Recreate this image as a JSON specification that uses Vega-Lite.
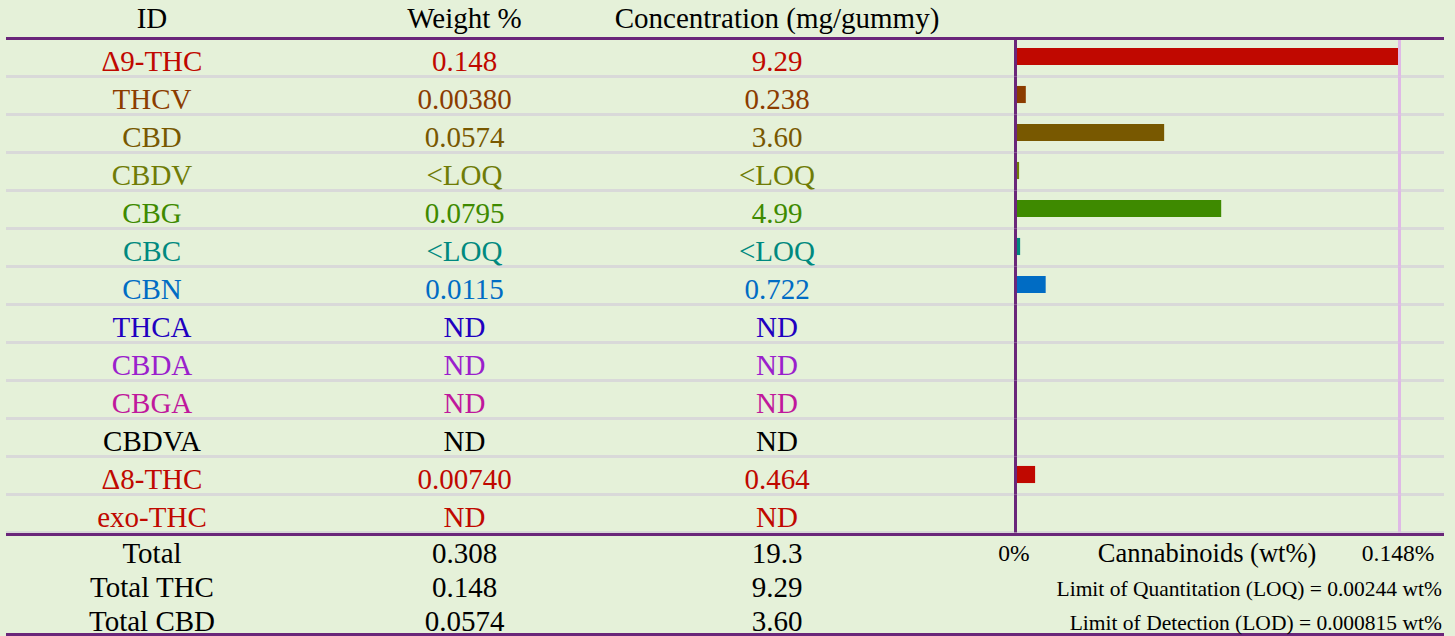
{
"$schema":"https://vega.github.io/schema/vega-lite/v6.json",
"width":1455,"height":636,
"autosize":{"type":"fit","contains":"padding"},
"padding":{"left":4,"right":9,"top":0,"bottom":0},
"background":"#e5f1d9",
"config":{"view":{"stroke":null},"text":{"font":"Liberation Serif"},"mark":{"font":"Liberation Serif"}},
"datasets":{
 "rows":[
  {"id":"Δ9-THC","weight":"0.148","conc":"9.29","wt":0.148},
  {"id":"THCV","weight":"0.00380","conc":"0.238","wt":0.0038},
  {"id":"CBD","weight":"0.0574","conc":"3.60","wt":0.0574},
  {"id":"CBDV","weight":"<LOQ","conc":"<LOQ","wt":0.0012},
  {"id":"CBG","weight":"0.0795","conc":"4.99","wt":0.0795},
  {"id":"CBC","weight":"<LOQ","conc":"<LOQ","wt":0.0016},
  {"id":"CBN","weight":"0.0115","conc":"0.722","wt":0.0115},
  {"id":"THCA","weight":"ND","conc":"ND","wt":null},
  {"id":"CBDA","weight":"ND","conc":"ND","wt":null},
  {"id":"CBGA","weight":"ND","conc":"ND","wt":null},
  {"id":"CBDVA","weight":"ND","conc":"ND","wt":null},
  {"id":"Δ8-THC","weight":"0.00740","conc":"0.464","wt":0.0074},
  {"id":"exo-THC","weight":"ND","conc":"ND","wt":null}
 ],
 "totals":[
  {"id":"Total","weight":"0.308","conc":"19.3"},
  {"id":"Total THC","weight":"0.148","conc":"9.29"},
  {"id":"Total CBD","weight":"0.0574","conc":"3.60"}
 ],
 "header":[{"col":"id","txt":"ID"},{"col":"weight","txt":"Weight %"},{"col":"conc","txt":"Concentration (mg/gummy)"}]
},
"layer":[
 {"data":{"name":"rows"},"mark":{"type":"rule","color":"#d9d9d9","strokeWidth":3},
  "encoding":{"y":{"field":"id","type":"nominal","bandPosition":1,"axis":null,
   "scale":{"type":"band","domain":["header","Δ9-THC","THCV","CBD","CBDV","CBG","CBC","CBN","THCA","CBDA","CBGA","CBDVA","Δ8-THC","exo-THC"],"range":[0.5,532.5],"paddingInner":0,"paddingOuter":0}}}},
 {"data":{"name":"rows"},"transform":[{"filter":"datum.wt != null"}],
  "mark":{"type":"bar","height":{"band":0.45},"yOffset":-1},
  "encoding":{
   "y":{"field":"id","type":"nominal","axis":null,
    "scale":{"type":"band","domain":["header","Δ9-THC","THCV","CBD","CBDV","CBG","CBC","CBN","THCA","CBDA","CBGA","CBDVA","Δ8-THC","exo-THC"],"range":[0.5,532.5],"paddingInner":0,"paddingOuter":0}},
   "x":{"field":"wt","type":"quantitative","axis":null,"scale":{"domain":[0,0.148],"range":[1010,1392],"nice":false,"zero":false}},
   "color":{"field":"id","type":"nominal","legend":null,
    "scale":{"domain":["Δ9-THC","THCV","CBD","CBDV","CBG","CBC","CBN","THCA","CBDA","CBGA","CBDVA","Δ8-THC","exo-THC"],"range":["#c00800","#8b3c00","#785800","#6f7c06","#3e8a00","#00897f","#006cc4","#2000c0","#9a20cc","#c0189c","#000000","#c00800","#c00800"]}}}},
 {"data":{"name":"rows"},"mark":{"type":"tick","orient":"vertical","color":"#dfb9e6","thickness":3,"size":38,"xOffset":1.5,"opacity":1},
  "encoding":{
   "y":{"field":"id","type":"nominal","axis":null,
    "scale":{"type":"band","domain":["header","Δ9-THC","THCV","CBD","CBDV","CBG","CBC","CBN","THCA","CBDA","CBGA","CBDVA","Δ8-THC","exo-THC"],"range":[0.5,532.5],"paddingInner":0,"paddingOuter":0}},
   "x":{"datum":0.148,"type":"quantitative","axis":null,"scale":{"domain":[0,0.148],"range":[1010,1392],"nice":false,"zero":false}}}},
 {"data":{"name":"rows"},"mark":{"type":"tick","orient":"vertical","color":"#6a267a","thickness":3,"size":38,"xOffset":-0.5,"opacity":1},
  "encoding":{
   "y":{"field":"id","type":"nominal","axis":null,
    "scale":{"type":"band","domain":["header","Δ9-THC","THCV","CBD","CBDV","CBG","CBC","CBN","THCA","CBDA","CBGA","CBDVA","Δ8-THC","exo-THC"],"range":[0.5,532.5],"paddingInner":0,"paddingOuter":0}},
   "x":{"datum":0,"type":"quantitative","axis":null,"scale":{"domain":[0,0.148],"range":[1010,1392],"nice":false,"zero":false}}}},
 {"data":{"values":[{"id":"header"}]},"mark":{"type":"rule","color":"#6a267a","strokeWidth":3},
  "encoding":{"y":{"field":"id","type":"nominal","bandPosition":1,"axis":null,
   "scale":{"type":"band","domain":["header","Δ9-THC","THCV","CBD","CBDV","CBG","CBC","CBN","THCA","CBDA","CBGA","CBDVA","Δ8-THC","exo-THC"],"range":[0.5,532.5],"paddingInner":0,"paddingOuter":0}}}},
 {"data":{"values":[{"id":"exo-THC"}]},"mark":{"type":"rule","color":"#6a267a","strokeWidth":3,"yOffset":2},
  "encoding":{"y":{"field":"id","type":"nominal","bandPosition":1,"axis":null,
   "scale":{"type":"band","domain":["header","Δ9-THC","THCV","CBD","CBDV","CBG","CBC","CBN","THCA","CBDA","CBGA","CBDVA","Δ8-THC","exo-THC"],"range":[0.5,532.5],"paddingInner":0,"paddingOuter":0}}}},
 {"data":{"values":[{"id":"Total CBD"}]},"mark":{"type":"rule","color":"#6a267a","strokeWidth":3,"yOffset":-4.5},
  "encoding":{"y":{"field":"id","type":"nominal","bandPosition":1,"axis":null,
   "scale":{"type":"band","domain":["Total","Total THC","Total CBD"],"range":[537,639],"paddingInner":0,"paddingOuter":0}}}},
 {"data":{"name":"rows"},"transform":[{"fold":["id","weight","conc"],"as":["col","txt"]}],
  "mark":{"type":"text","font":"Liberation Serif","fontSize":29,"dy":4,"baseline":"middle","align":"center"},
  "encoding":{
   "y":{"field":"id","type":"nominal","axis":null,
    "scale":{"type":"band","domain":["header","Δ9-THC","THCV","CBD","CBDV","CBG","CBC","CBN","THCA","CBDA","CBGA","CBDVA","Δ8-THC","exo-THC"],"range":[0.5,532.5],"paddingInner":0,"paddingOuter":0}},
   "x":{"field":"col","type":"nominal","axis":null,"scale":{"type":"point","domain":["id","weight","conc"],"range":[146,771],"padding":0}},
   "text":{"field":"txt"},
   "color":{"field":"id","type":"nominal","legend":null,
    "scale":{"domain":["Δ9-THC","THCV","CBD","CBDV","CBG","CBC","CBN","THCA","CBDA","CBGA","CBDVA","Δ8-THC","exo-THC"],"range":["#c00800","#8b3c00","#785800","#6f7c06","#3e8a00","#00897f","#006cc4","#2000c0","#9a20cc","#c0189c","#000000","#c00800","#c00800"]}}}},
 {"data":{"name":"header"},
  "mark":{"type":"text","font":"Liberation Serif","fontSize":29,"dy":-1,"baseline":"middle","align":"center","color":"#000000"},
  "encoding":{
   "y":{"datum":"header","type":"nominal","axis":null,
    "scale":{"type":"band","domain":["header","Δ9-THC","THCV","CBD","CBDV","CBG","CBC","CBN","THCA","CBDA","CBGA","CBDVA","Δ8-THC","exo-THC"],"range":[0.5,532.5],"paddingInner":0,"paddingOuter":0}},
   "x":{"field":"col","type":"nominal","axis":null,"scale":{"type":"point","domain":["id","weight","conc"],"range":[146,771],"padding":0}},
   "text":{"field":"txt"}}},
 {"data":{"name":"totals"},"transform":[{"fold":["id","weight","conc"],"as":["col","txt"]}],
  "mark":{"type":"text","font":"Liberation Serif","fontSize":29,"dy":0,"baseline":"middle","align":"center","color":"#000000"},
  "encoding":{
   "y":{"field":"id","type":"nominal","axis":null,
    "scale":{"type":"band","domain":["Total","Total THC","Total CBD"],"range":[537,639],"paddingInner":0,"paddingOuter":0}},
   "x":{"field":"col","type":"nominal","axis":null,"scale":{"type":"point","domain":["id","weight","conc"],"range":[146,771],"padding":0}},
   "text":{"field":"txt"}}},
 {"data":{"values":[{}]},
  "mark":{"type":"text","font":"Liberation Serif","fontSize":23.5,"baseline":"middle","align":"center","color":"#000000","text":"0%","dx":-2},
  "encoding":{
   "y":{"datum":"Total","type":"nominal","axis":null,
    "scale":{"type":"band","domain":["Total","Total THC","Total CBD"],"range":[537,639],"paddingInner":0,"paddingOuter":0}},
   "x":{"datum":0,"type":"quantitative","axis":null,"scale":{"domain":[0,0.148],"range":[1010,1392],"nice":false,"zero":false}}}},
 {"data":{"values":[{}]},
  "mark":{"type":"text","font":"Liberation Serif","fontSize":23.5,"baseline":"middle","align":"center","color":"#000000","text":"0.148%"},
  "encoding":{
   "y":{"datum":"Total","type":"nominal","axis":null,
    "scale":{"type":"band","domain":["Total","Total THC","Total CBD"],"range":[537,639],"paddingInner":0,"paddingOuter":0}},
   "x":{"datum":0.148,"type":"quantitative","axis":null,"scale":{"domain":[0,0.148],"range":[1010,1392],"nice":false,"zero":false}}}},
 {"data":{"values":[{}]},
  "mark":{"type":"text","font":"Liberation Serif","fontSize":26.5,"baseline":"middle","align":"center","color":"#000000","text":"Cannabinoids (wt%)"},
  "encoding":{
   "y":{"datum":"Total","type":"nominal","axis":null,
    "scale":{"type":"band","domain":["Total","Total THC","Total CBD"],"range":[537,639],"paddingInner":0,"paddingOuter":0}},
   "x":{"datum":0.074,"type":"quantitative","axis":null,"scale":{"domain":[0,0.148],"range":[1010,1392],"nice":false,"zero":false}}}},
 {"data":{"values":[{}]},
  "mark":{"type":"text","font":"Liberation Serif","fontSize":21.5,"baseline":"middle","align":"right","color":"#000000","text":"Limit of Quantitation (LOQ) = 0.00244 wt%","dy":1.5},
  "encoding":{
   "y":{"datum":"Total THC","type":"nominal","axis":null,
    "scale":{"type":"band","domain":["Total","Total THC","Total CBD"],"range":[537,639],"paddingInner":0,"paddingOuter":0}},
   "x":{"datum":0.165,"type":"quantitative","axis":null,"scale":{"domain":[0,0.148],"range":[1010,1392],"nice":false,"zero":false}}}},
 {"data":{"values":[{}]},
  "mark":{"type":"text","font":"Liberation Serif","fontSize":21.5,"baseline":"middle","align":"right","color":"#000000","text":"Limit of Detection (LOD) = 0.000815 wt%","dy":1.5},
  "encoding":{
   "y":{"datum":"Total CBD","type":"nominal","axis":null,
    "scale":{"type":"band","domain":["Total","Total THC","Total CBD"],"range":[537,639],"paddingInner":0,"paddingOuter":0}},
   "x":{"datum":0.165,"type":"quantitative","axis":null,"scale":{"domain":[0,0.148],"range":[1010,1392],"nice":false,"zero":false}}}}
],
"resolve":{"scale":{"x":"independent","y":"independent","color":"independent"}}
}
